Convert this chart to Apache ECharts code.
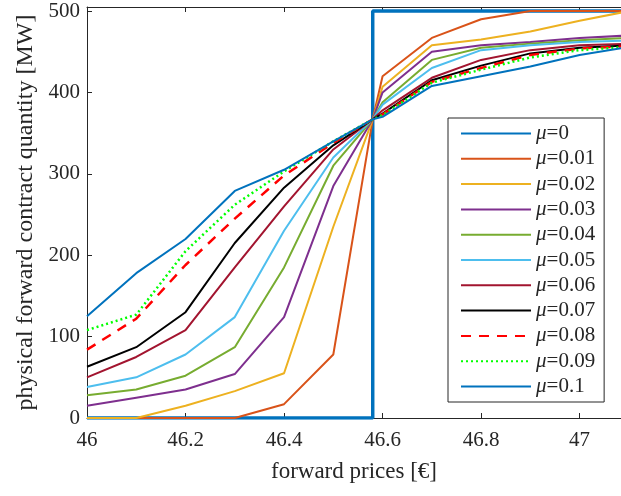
<!DOCTYPE html>
<html>
<head>
<meta charset="utf-8">
<script src="https://cdn.jsdelivr.net/npm/echarts@6/dist/echarts.min.js"></script>
<style>
  html, body { margin: 0; padding: 0; background: #fff; }
  #chart { width: 621px; height: 496px; }
</style>
</head>
<body>
<div id="chart"></div>
<script>
// 价格点（交叉点约在 46.58）
const prices = [46, 46.1, 46.2, 46.3, 46.4, 46.5, 46.58, 46.6, 46.7, 46.8, 46.9, 47, 47.1];

// μ=0 是阶跃函数
const mu0Prices = [46, 46.58, 46.58, 47.1];
const mu0Values = [0, 0, 500, 500];

const mu001 = [0, 0, 0, 0, 17, 78, 367, 420, 467, 490, 500, 500, 500];
const mu002 = [0, 0, 15, 33, 55, 235, 367, 407, 458, 465, 475, 488, 500];
const mu003 = [15, 25, 35, 54, 124, 285, 367, 400, 450, 458, 462, 467, 470];
const mu004 = [28, 35, 52, 87, 185, 310, 367, 388, 440, 455, 460, 464, 467];
const mu005 = [38, 50, 78, 124, 230, 320, 367, 385, 430, 452, 458, 462, 464];
const mu006 = [50, 75, 108, 185, 260, 330, 367, 378, 418, 440, 452, 458, 460];
const mu007 = [63, 87, 130, 215, 283, 335, 367, 374, 415, 433, 448, 455, 458];
const mu008 = [84, 122, 188, 245, 298, 338, 367, 373, 413, 430, 446, 454, 457];
const mu009 = [108, 127, 205, 262, 303, 340, 367, 372, 412, 428, 443, 452, 456];
const mu010 = [125, 178, 220, 279, 305, 340, 367, 370, 408, 420, 432, 446, 456];

const seriesNames = ['μ=0', 'μ=0.01', 'μ=0.02', 'μ=0.03', 'μ=0.04', 'μ=0.05',
  'μ=0.06', 'μ=0.07', 'μ=0.08', 'μ=0.09', 'μ=0.1'];

const FONT = 'Liberation Serif';
const TEXT = '#262626';

function pair(xs, ys) {
  return xs.map((x, i) => [x, ys[i]]);
}

function lineSeries(name, values, color, width, type) {
  return {
    name: name,
    type: 'line',
    data: pair(prices, values),
    symbol: 'none',
    lineStyle: { color: color, width: width, type: type || 'solid' },
    itemStyle: { color: color }
  };
}

const chart = echarts.init(document.getElementById('chart'));

const option = {
  animation: false,
  grid: { left: 87, right: 0, top: 7, bottom: 78 },
  legend: {
    data: seriesNames,
    orient: 'vertical',
    left: 448,
    top: 118,
    padding: [5, 9, 5, 12],
    itemWidth: 70,
    itemHeight: 14,
    itemGap: 4.3,
    itemStyle: { opacity: 0 },
    backgroundColor: '#fff',
    borderColor: TEXT,
    borderWidth: 1,
    formatter: name => name.replace('μ', '{m|μ}'),
    textStyle: {
      fontFamily: FONT,
      fontSize: 21,
      color: TEXT,
      rich: {
        m: { fontFamily: FONT, fontSize: 21, fontStyle: 'italic', color: TEXT }
      }
    }
  },
  xAxis: [
    {
      type: 'value',
      min: 46,
      max: 47.084,
      interval: 0.2,
      name: 'forward prices [€]',
      nameLocation: 'middle',
      nameGap: 42,
      nameTextStyle: { fontFamily: FONT, fontSize: 23, color: TEXT },
      axisLine: { lineStyle: { color: TEXT, width: 1 } },
      axisTick: { inside: true, length: 5, lineStyle: { color: TEXT } },
      axisLabel: {
        fontFamily: FONT,
        fontSize: 21,
        color: TEXT,
        margin: 12,
        showMaxLabel: false,
        formatter: v => (Math.abs(v * 5 - Math.round(v * 5)) < 1e-6 ? String(+v.toFixed(1)) : '')
      },
      splitLine: { show: false }
    },
    {
      type: 'value',
      position: 'top',
      min: 46,
      max: 47.084,
      interval: 0.2,
      axisLine: { show: true, lineStyle: { color: TEXT, width: 1 } },
      axisTick: { inside: true, length: 5, lineStyle: { color: TEXT } },
      axisLabel: { show: false },
      splitLine: { show: false }
    }
  ],
  yAxis: {
    type: 'value',
    min: 0,
    max: 505,
    interval: 100,
    name: 'physical forward contract quantity [MW]',
    nameLocation: 'middle',
    nameGap: 48,
    nameTextStyle: { fontFamily: FONT, fontSize: 24, color: TEXT },
    axisLine: { show: true, lineStyle: { color: TEXT, width: 1 } },
    axisTick: { show: true, inside: true, length: 5, lineStyle: { color: TEXT } },
    axisLabel: {
      fontFamily: FONT,
      fontSize: 21,
      color: TEXT,
      margin: 7,
      formatter: v => (v % 100 === 0 ? String(v) : '')
    },
    splitLine: { show: false }
  },
  series: [
    {
      name: 'μ=0',
      type: 'line',
      data: pair(mu0Prices, mu0Values),
      symbol: 'none',
      lineStyle: { color: '#0072BD', width: 3.5 },
      itemStyle: { color: '#0072BD' }
    },
    lineSeries('μ=0.01', mu001, '#D95319', 2),
    lineSeries('μ=0.02', mu002, '#EDB120', 2),
    lineSeries('μ=0.03', mu003, '#7E2F8E', 2),
    lineSeries('μ=0.04', mu004, '#77AC30', 2),
    lineSeries('μ=0.05', mu005, '#4DBEEE', 2),
    lineSeries('μ=0.06', mu006, '#A2142F', 2),
    lineSeries('μ=0.07', mu007, '#000000', 2),
    lineSeries('μ=0.08', mu008, '#FF0000', 2.5, [10, 8]),
    lineSeries('μ=0.09', mu009, '#00FF00', 2.5, [2, 3]),
    lineSeries('μ=0.1', mu010, '#0072BD', 2)
  ]
};

chart.setOption(option);
</script>
</body>
</html>
